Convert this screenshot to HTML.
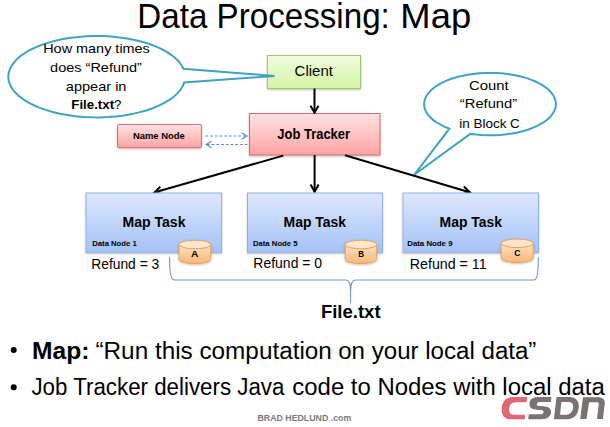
<!DOCTYPE html>
<html><head><meta charset="utf-8">
<style>
html,body{margin:0;padding:0;background:#fff;}
body{width:610px;height:427px;overflow:hidden;position:relative;}
svg{position:absolute;left:0;top:0;}
text{font-family:"Liberation Sans",sans-serif;fill:#000;}
.b{font-weight:bold;}
</style></head>
<body>
<svg width="610" height="427" viewBox="0 0 610 427">
<defs>
  <linearGradient id="gGreen" x1="0" y1="0" x2="0" y2="1">
    <stop offset="0" stop-color="#f1fde2"/><stop offset="1" stop-color="#d3f5a2"/>
  </linearGradient>
  <linearGradient id="gPink" x1="0" y1="0" x2="0" y2="1">
    <stop offset="0" stop-color="#ffe2e2"/><stop offset="1" stop-color="#ffa3a3"/>
  </linearGradient>
  <linearGradient id="gBlue" x1="0" y1="0" x2="0" y2="1">
    <stop offset="0" stop-color="#dde8fc"/><stop offset="1" stop-color="#a4c2f7"/>
  </linearGradient>
  <linearGradient id="gOrange" x1="0" y1="0" x2="0" y2="1">
    <stop offset="0" stop-color="#fde3c4"/><stop offset="1" stop-color="#f9b676"/>
  </linearGradient>
  <filter id="sh" x="-10%" y="-10%" width="120%" height="130%">
    <feGaussianBlur in="SourceAlpha" stdDeviation="0.9"/>
    <feOffset dx="0.3" dy="1.2"/>
    <feComponentTransfer><feFuncA type="linear" slope="0.25"/></feComponentTransfer>
    <feMerge><feMergeNode/><feMergeNode in="SourceGraphic"/></feMerge>
  </filter>
  <marker id="arr" viewBox="0 0 10 10" refX="9" refY="5" markerWidth="4.5" markerHeight="4.5" orient="auto" markerUnits="strokeWidth">
    <path d="M0,0 L10,5 L0,10" fill="none" stroke="#000" stroke-width="2"/>
  </marker>
</defs>

<!-- Title -->

<!-- Right bubble -->
<path d="M449.4,128.7 L444.8,126.8 L440.6,124.7 L436.7,122.5 L433.4,120.1 L430.5,117.5 L428.1,114.9 L426.3,112.1 L425.0,109.3 L424.3,106.4 L424.1,103.5 L424.5,100.7 L425.5,97.8 L427.0,95.0 L429.0,92.3 L431.6,89.7 L434.6,87.2 L438.2,84.8 L442.2,82.6 L446.6,80.6 L451.3,78.8 L456.4,77.3 L461.8,75.9 L467.4,74.8 L473.2,73.9 L479.2,73.3 L485.3,73.0 L491.4,72.9 L497.4,73.1 L503.5,73.6 L509.4,74.3 L515.1,75.3 L520.6,76.5 L525.9,77.9 L530.8,79.6 L535.4,81.5 L539.7,83.6 L543.5,85.9 L546.8,88.3 L549.6,90.8 L552.0,93.5 L553.8,96.2 L555.0,99.1 L555.7,101.9 L555.9,104.8 L555.5,107.7 L554.5,110.5 L552.9,113.3 L550.9,116.1 L548.3,118.7 L545.2,121.2 L541.6,123.5 L537.6,125.7 L533.2,127.7 L528.4,129.5 L523.3,131.0 L517.9,132.4 L512.3,133.5 L506.4,134.3 L500.5,134.9 L494.4,135.2 L488.3,135.3 L482.2,135.1 L476.2,134.6 L470.3,133.9 L414.2,174.8 Z" fill="#fff" stroke="#3fa3c3" stroke-width="2"/>

<!-- Client -->
<rect x="267.5" y="55.5" width="93" height="33" fill="url(#gGreen)" stroke="#a3c76e" stroke-width="1" filter="url(#sh)"/>

<!-- Left bubble -->
<path d="M183.4,68.7 L181.4,65.0 L178.7,61.5 L175.3,58.0 L171.2,54.8 L166.4,51.7 L161.1,48.8 L155.2,46.2 L148.8,43.8 L141.9,41.7 L134.7,40.0 L127.1,38.5 L119.3,37.4 L111.3,36.6 L103.1,36.1 L94.9,36.0 L86.8,36.3 L78.7,36.9 L70.7,37.8 L63.0,39.1 L55.6,40.7 L48.5,42.6 L41.8,44.8 L35.6,47.3 L30.0,50.0 L24.9,53.0 L20.4,56.1 L16.6,59.5 L13.5,63.0 L11.1,66.6 L9.4,70.3 L8.5,74.0 L8.3,77.8 L8.9,81.6 L10.3,85.3 L12.4,89.0 L15.2,92.5 L18.8,95.9 L23.0,99.2 L27.8,102.2 L33.3,105.0 L39.2,107.6 L45.7,109.9 L52.6,112.0 L59.9,113.7 L67.5,115.1 L75.4,116.2 L83.4,116.9 L91.6,117.3 L99.8,117.4 L108.0,117.1 L116.1,116.4 L124.0,115.4 L131.7,114.1 L139.0,112.4 L146.0,110.5 L152.6,108.2 L158.7,105.7 L164.3,102.9 L169.3,99.9 L173.7,96.7 L177.4,93.4 L180.4,89.8 L182.7,86.2 L184.2,82.5 L274.5,76.0 Z" fill="#fff" stroke="#3fa3c3" stroke-width="2"/>

<!-- Job tracker -->
<rect x="249.5" y="113.5" width="130.5" height="41.5" fill="url(#gPink)" stroke="#d06c6c" stroke-width="1" filter="url(#sh)"/>

<!-- Name node -->
<rect x="117.6" y="124.4" width="83.8" height="23.3" rx="1.5" fill="url(#gPink)" stroke="#d06c6c" stroke-width="1" filter="url(#sh)"/>

<!-- Dotted arrows -->
<g stroke="#5a88cc" stroke-width="1.1" fill="none" stroke-dasharray="2.8,1.9">
  <path d="M205.4,136 H246"/>
  <path d="M207,144.5 H247.8"/>
</g>
<g stroke="#5a88cc" stroke-width="1.1" fill="none">
  <path d="M241.5,132.8 L247,136 L241.5,139.3"/>
  <path d="M211.5,141.2 L206.1,144.5 L211.5,147.7"/>
</g>
<!-- Solid arrows -->
<g stroke="#000" stroke-width="2" fill="none">
  <path d="M314.5,88.5 V112.5" />
  <path d="M310.5,105.8 L314.5,112.6 L318.5,105.8"/>
  <path d="M283.3,155.6 L155,192.3"/>
  <path d="M314.6,155 V192"/>
  <path d="M310.6,184.6 L314.6,192 L318.6,184.6"/>
  <path d="M345,155.2 L469.5,192.3"/>
  <path d="M160.3,186.7 L154.2,192.6 L162.5,194.3"/>
  <path d="M461.7,194.2 L470,192.5 L463.9,186.5"/>
</g>

<!-- Map Tasks -->
<g filter="url(#sh)">
<rect x="86" y="193" width="135.5" height="59.5" fill="url(#gBlue)" stroke="#93b3e2" stroke-width="1"/>
<rect x="247.5" y="193" width="135" height="59.5" fill="url(#gBlue)" stroke="#93b3e2" stroke-width="1"/>
<rect x="403" y="193" width="135.5" height="59.5" fill="url(#gBlue)" stroke="#93b3e2" stroke-width="1"/>
</g>

<!-- Cylinders -->
<g stroke="#e6a25c" stroke-width="1" filter="url(#sh)">
  <path d="M179,244.5 V259.3 A15.9,4.3 0 0 0 210.8,259.3 V244.5 Z" fill="url(#gOrange)"/>
  <ellipse cx="194.9" cy="244.5" rx="15.9" ry="4.3" fill="#fde6cc"/>
  <path d="M345.2,244.5 V259.3 A15.75,4.3 0 0 0 376.7,259.3 V244.5 Z" fill="url(#gOrange)"/>
  <ellipse cx="360.95" cy="244.5" rx="15.75" ry="4.3" fill="#fde6cc"/>
  <path d="M501.2,243.3 V258.1 A16,4.3 0 0 0 533.2,258.1 V243.3 Z" fill="url(#gOrange)"/>
  <ellipse cx="517.2" cy="243.3" rx="16" ry="4.3" fill="#fde6cc"/>
</g>

<!-- Refund labels -->

<!-- Brace -->
<path d="M169.5,257 L169.9,269 Q170.6,280 174.5,280 H346 C349,280 350.6,284 350.6,292 L350.6,303.6 M350.6,292 C350.6,284 352.2,280 355.2,280 H534 Q537.4,280 538,269 L538.4,257" fill="none" stroke="#6e97d2" stroke-width="1.1"/>


<!-- Bullets -->
<circle cx="13.7" cy="349.9" r="3" fill="#000"/>
<circle cx="13.7" cy="387.3" r="3" fill="#000"/>


<text id="t1" x="137.31" y="27.70" font-size="35" textLength="252.55" lengthAdjust="spacingAndGlyphs">Data Processing:</text>
<text id="t3" x="400.37" y="27.70" font-size="35" textLength="70.75" lengthAdjust="spacingAndGlyphs">Map</text>
<text id="lb1" x="43.21" y="53.00" font-size="13.4" textLength="106.64" lengthAdjust="spacingAndGlyphs">How many times</text>
<text id="lb2" x="50.14" y="71.80" font-size="13.4" textLength="91.81" lengthAdjust="spacingAndGlyphs">does “Refund”</text>
<text id="lb3" x="65.89" y="90.70" font-size="13.4" textLength="60.58" lengthAdjust="spacingAndGlyphs">appear in</text>
<text id="lb4" x="71.31" y="109.30" font-size="13.4" textLength="50.20" lengthAdjust="spacingAndGlyphs"><tspan font-weight="bold">File.txt</tspan>?</text>
<text id="rb1" x="468.95" y="90.20" font-size="13.4" textLength="39.67" lengthAdjust="spacingAndGlyphs">Count</text>
<text id="rb2" x="459.89" y="108.30" font-size="13.4" textLength="57.20" lengthAdjust="spacingAndGlyphs">“Refund”</text>
<text id="rb3" x="459.21" y="127.50" font-size="13.4" textLength="60.64" lengthAdjust="spacingAndGlyphs">in Block C</text>
<text id="cl" x="294.64" y="76.00" font-size="14.3" textLength="38.23" lengthAdjust="spacingAndGlyphs">Client</text>
<text id="jt" x="277.36" y="139.20" font-size="14.5" font-weight="bold" textLength="72.70" lengthAdjust="spacingAndGlyphs">Job Tracker</text>
<text id="nn" x="132.92" y="139.00" font-size="9.5" font-weight="bold" textLength="51.91" lengthAdjust="spacingAndGlyphs">Name Node</text>
<text id="mt1" x="122.50" y="227.00" font-size="14.5" font-weight="bold" textLength="62.98" lengthAdjust="spacingAndGlyphs">Map Task</text>
<text id="mt2" x="283.55" y="227.00" font-size="14.5" font-weight="bold" textLength="62.52" lengthAdjust="spacingAndGlyphs">Map Task</text>
<text id="mt3" x="439.55" y="227.00" font-size="14.5" font-weight="bold" textLength="62.52" lengthAdjust="spacingAndGlyphs">Map Task</text>
<text id="dn1" x="92.24" y="246.00" font-size="7.8" font-weight="bold" textLength="44.49" lengthAdjust="spacingAndGlyphs">Data Node 1</text>
<text id="dn2" x="252.91" y="246.30" font-size="7.8" font-weight="bold" textLength="44.67" lengthAdjust="spacingAndGlyphs">Data Node 5</text>
<text id="dn3" x="407.24" y="246.00" font-size="7.8" font-weight="bold" textLength="45.27" lengthAdjust="spacingAndGlyphs">Data Node 9</text>
<text id="cA" x="191.14" y="256.90" font-size="9" font-weight="bold" textLength="7.36" lengthAdjust="spacingAndGlyphs">A</text>
<text id="cB" x="358.26" y="256.70" font-size="9" font-weight="bold" textLength="5.73" lengthAdjust="spacingAndGlyphs">B</text>
<text id="cC" x="514.36" y="255.70" font-size="9" font-weight="bold" textLength="6.20" lengthAdjust="spacingAndGlyphs">C</text>
<text id="rf1" x="91.22" y="268.60" font-size="14.2" textLength="68.04" lengthAdjust="spacingAndGlyphs">Refund = 3</text>
<text id="rf2" x="253.37" y="268.40" font-size="14.2" textLength="68.73" lengthAdjust="spacingAndGlyphs">Refund = 0</text>
<text id="rf3" x="409.73" y="268.60" font-size="14.2" textLength="76.93" lengthAdjust="spacingAndGlyphs">Refund = 11</text>
<text id="ft" x="320.93" y="317.50" font-size="17.9" font-weight="bold" textLength="59.64" lengthAdjust="spacingAndGlyphs">File.txt</text>
<text id="a0" x="31.97" y="358.60" font-size="23.3" font-weight="bold" textLength="57.40" lengthAdjust="spacingAndGlyphs">Map:</text>
<text id="a1" x="95.49" y="358.60" font-size="23.3" textLength="236.36" lengthAdjust="spacingAndGlyphs">“Run this computation</text>
<text id="a2" x="338.23" y="358.60" font-size="23.3" textLength="198.18" lengthAdjust="spacingAndGlyphs">on your local data”</text>
<text id="b0" x="31.46" y="395.00" font-size="23.3" textLength="252.90" lengthAdjust="spacingAndGlyphs">Job Tracker delivers Java</text>
<text id="b1" x="292.33" y="395.00" font-size="23.3" textLength="312.37" lengthAdjust="spacingAndGlyphs">code to Nodes with local data</text>
<text id="brad" x="257.50" y="420.50" font-size="9.6" font-weight="bold" textLength="93.72" lengthAdjust="spacingAndGlyphs" style="fill:#7a7a7a">BRAD HEDLUND .com</text>
<!-- CSDN -->
<g>
  <path fill="#df6973" d="M527.2,397 L512.5,397 C505,397 501.6,403 501.6,409.5 C501.6,415.5 504.5,419.2 510.5,419.2 L524.9,419.2 L524.9,414.7 L513.5,414.7 C510.5,414.7 509.1,412.5 509.1,409.5 C509.1,405 511.5,402.2 516,402.2 L526.5,402.2 Z"/>
  <path fill="#7a7371" d="M551.5,397 L538,397 C532,397 529.5,400 529.5,404 C529.5,408 532,409.5 537,409.7 L541,409.9 C543,410 543.8,411 543.6,412 C543.4,413.5 542.5,414.3 540.5,414.3 L528.9,414.3 L528.2,419.2 L541.5,419.2 C548,419.2 551,416 551,412 C551,408 548,406.5 543.5,406.3 L539,406.1 C537.2,406 536.7,405 536.9,404 C537.1,402.8 538,401.9 540,401.9 L550.9,401.9 Z"/>
  <path fill="#7a7371" fill-rule="evenodd" d="M556.5,397 L569.5,397 C575.5,397 578.8,400.5 578.8,406 C578.8,413.5 574.5,419.2 567,419.2 L553.9,419.2 Z M561.4,401.9 L568.5,401.9 C571.5,401.9 573.2,403.5 573.2,406.3 C573.2,411 570.5,414.7 566.5,414.7 L560.1,414.7 Z"/>
  <path fill="#7a7371" d="M582.9,397.3 L598,397.3 C602.5,397.3 605,399.5 604.8,403 L602.9,418.9 L597,418.9 L598.7,404.5 C598.9,403 598.3,402.2 597,402.2 L589.1,402.2 L586.5,418.9 L580.2,418.9 Z"/>
</g>
</svg>
</body></html>
